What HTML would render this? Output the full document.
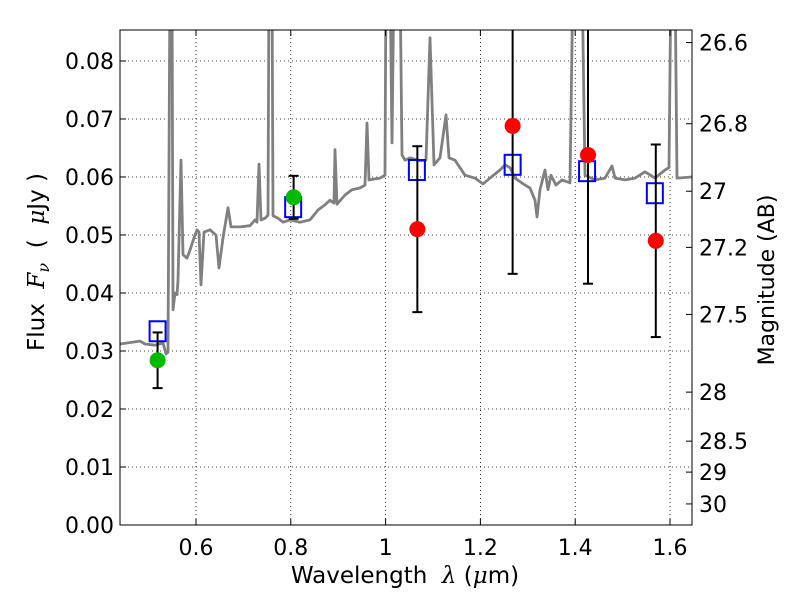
<!DOCTYPE html>
<html><head><meta charset="utf-8"><style>
body{margin:0;background:#fff;}
svg text{font-family:"DejaVu Sans","Liberation Sans",sans-serif;}
</style></head><body>
<svg id="chart" width="800" height="600"></svg>
<script>
const specLam=[0.4397,0.4819,0.4924,0.5135,0.5304,0.5367,0.5409,0.5451,0.5494,0.5515,0.5557,0.5599,0.5620,0.5684,0.5726,0.5810,0.5873,0.5958,0.6021,0.6063,0.6105,0.6169,0.6295,0.6422,0.6485,0.6570,0.6675,0.6738,0.6928,0.7139,0.7245,0.7287,0.7329,0.7371,0.7456,0.7519,0.7540,0.7603,0.7624,0.7730,0.7835,0.7983,0.8194,0.8405,0.8574,0.8722,0.8827,0.8911,0.8932,0.8975,0.9143,0.9291,0.9460,0.9565,0.9608,0.9650,0.9882,0.9987,1.0008,1.0093,1.0135,1.0177,1.0304,1.0346,1.0409,1.0515,1.0726,1.0852,1.0937,1.1021,1.1148,1.1274,1.1338,1.1464,1.1675,1.1886,1.2055,1.2203,1.2414,1.2519,1.2624,1.2730,1.2941,1.3046,1.3152,1.3194,1.3257,1.3363,1.3426,1.3489,1.3595,1.3722,1.3890,1.3954,1.4143,1.4207,1.4418,1.4629,1.4776,1.4840,1.5051,1.5262,1.5473,1.5684,1.5895,1.5979,1.6021,1.6105,1.6148,1.6464];
const specFlux=[0.0312,0.0317,0.0312,0.0310,0.0314,0.0295,0.0298,0.0950,0.0950,0.0371,0.0400,0.0397,0.0422,0.0629,0.0466,0.0460,0.0474,0.0495,0.0509,0.0505,0.0414,0.0505,0.0509,0.0500,0.0443,0.0495,0.0547,0.0514,0.0514,0.0516,0.0526,0.0522,0.0622,0.0526,0.0529,0.0534,0.0950,0.0950,0.0533,0.0529,0.0522,0.0526,0.0522,0.0526,0.0543,0.0552,0.0560,0.0555,0.0647,0.0553,0.0569,0.0578,0.0581,0.0586,0.0693,0.0595,0.0598,0.0603,0.0950,0.0950,0.0659,0.0950,0.0950,0.0638,0.0629,0.0633,0.0628,0.0629,0.0840,0.0621,0.0633,0.0707,0.0633,0.0629,0.0603,0.0598,0.0588,0.0598,0.0612,0.0621,0.0616,0.0598,0.0586,0.0581,0.0560,0.0531,0.0578,0.0612,0.0578,0.0603,0.0586,0.0595,0.0590,0.0950,0.0950,0.0603,0.0595,0.0598,0.0619,0.0598,0.0595,0.0598,0.0609,0.0598,0.0612,0.0616,0.0950,0.0950,0.0598,0.0600];
const photLam=[0.519,0.805,1.066,1.268,1.425,1.568];
const photFlux=[0.0334,0.0548,0.0612,0.0621,0.0610,0.0572];
const greenLam=[0.519,0.806];
const greenFlux=[0.0284,0.0565];
const greenErr=[0.0048,0.0037];
const redLam=[1.067,1.268,1.427,1.570];
const redFlux=[0.0510,0.0688,0.0638,0.0490];
const redErr=[0.0143,0.0255,0.0222,0.0166];
const xTicks=[0.6,0.8,1.0,1.2,1.4,1.6];
const xTickLabels=["0.6","0.8","1","1.2","1.4","1.6"];
const yTicks=[0,0.01,0.02,0.03,0.04,0.05,0.06,0.07,0.08];
const magTicks=[26.6,26.8,27,27.2,27.5,28,28.5,29,30];

const L=120,R=692,T=30,B=525;
const xmin=0.4397,xmax=1.6464,ymin=0,ymax=0.08534;
const X=v=>L+(v-xmin)/(xmax-xmin)*(R-L);
const Y=v=>B-(v-ymin)/(ymax-ymin)*(B-T);
const NS="http://www.w3.org/2000/svg";
const svg=document.getElementById('chart');
function mk(tag,attrs,parent){const e=document.createElementNS(NS,tag);for(const k in attrs)e.setAttribute(k,attrs[k]);(parent||svg).appendChild(e);return e;}

const defs=mk('defs',{});
const cp=mk('clipPath',{id:'clip'},defs);
mk('rect',{x:L,y:T,width:R-L,height:B-T},cp);

const grid=mk('g',{});


xTicks.forEach(t=>{mk('line',{x1:X(t),x2:X(t),y1:T,y2:B,stroke:'#000','stroke-width':0.8,'stroke-dasharray':'1,3'},grid);});
yTicks.forEach(t=>{mk('line',{x1:L,x2:R,y1:Y(t),y2:Y(t),stroke:'#000','stroke-width':0.8,'stroke-dasharray':'1,3'},grid);});

const plot=mk('g',{'clip-path':'url(#clip)'});
let d='';specLam.forEach((l,i)=>{d+=(i?'L':'M')+X(l).toFixed(1)+','+Y(specFlux[i]).toFixed(1);});
const sp=mk('path',{d:d,fill:'none',stroke:'#808080','stroke-width':2.8,'stroke-linejoin':'round'},plot);



photLam.forEach((l,i)=>{const r=mk('rect',{x:X(l)-8,y:Y(photFlux[i])-10,width:16,height:20,fill:'none',stroke:'#0000ff','stroke-width':2},plot);

});

function errbar(lam,fl,er,color,name){
  const x=X(lam);
  const g=mk('g',{},plot);
  
  
  mk('line',{x1:x,x2:x,y1:Y(fl+er),y2:Y(fl-er),stroke:'#000','stroke-width':2},g);
  mk('line',{x1:x-5,x2:x+5,y1:Y(fl+er),y2:Y(fl+er),stroke:'#000','stroke-width':2},g);
  mk('line',{x1:x-5,x2:x+5,y1:Y(fl-er),y2:Y(fl-er),stroke:'#000','stroke-width':2},g);
  mk('circle',{cx:x,cy:Y(fl),r:8,fill:color},g);
}
greenLam.forEach((l,i)=>errbar(l,greenFlux[i],greenErr[i],'#00bb00','observed-point-green'));
redLam.forEach((l,i)=>errbar(l,redFlux[i],redErr[i],'#ff0000','observed-point-red'));

const fr=mk('rect',{x:L,y:T,width:R-L,height:B-T,fill:'none',stroke:'#000','stroke-width':1});



xTicks.forEach((t,i)=>{const x=X(t);
  mk('line',{x1:x,x2:x,y1:B,y2:B-6,stroke:'#000'});mk('line',{x1:x,x2:x,y1:T,y2:T+6,stroke:'#000'});
  const tx=mk('text',{x:x,y:B+30,'font-size':22,'text-anchor':'middle'});tx.textContent=xTickLabels[i];
  
  
});
yTicks.forEach(t=>{const y=Y(t);
  mk('line',{x1:L,x2:L+6,y1:y,y2:y,stroke:'#000'});
  const tx=mk('text',{x:L-6,y:y+8,'font-size':22,'text-anchor':'end'});tx.textContent=t.toFixed(2);
  
  
});
magTicks.forEach(m=>{const f=Math.pow(10,(23.9-m)/2.5);const y=Y(f);
  mk('line',{x1:R,x2:R-6,y1:y,y2:y,stroke:'#000'});
  const tx=mk('text',{x:R+7,y:y+8,'font-size':22});tx.textContent=String(m);
  
  
});
</script>
<svg width="800" height="600" style="position:absolute;left:0;top:0;pointer-events:none">
<text x="405" y="583" font-size="23" text-anchor="middle" xml:space="preserve" style="font-family:'DejaVu Sans',sans-serif">Wavelength  <tspan font-style="italic" font-family="DejaVu Serif">λ</tspan> (<tspan font-style="italic" font-family="DejaVu Serif">μ</tspan>m)</text>
<text transform="translate(44,262) rotate(-90)" font-size="23" text-anchor="middle" xml:space="preserve" style="font-family:'DejaVu Sans',sans-serif">Flux  <tspan font-style="italic" font-family="DejaVu Serif">F</tspan><tspan font-style="italic" font-family="DejaVu Serif" font-size="16" dy="5">ν</tspan><tspan dy="-5">  (  </tspan><tspan font-style="italic" font-family="DejaVu Serif">μ</tspan>Jy )</text>
<text transform="translate(774,280) rotate(-90)" font-size="22" text-anchor="middle" style="font-family:'DejaVu Sans',sans-serif">Magnitude (AB)</text>
</svg>
</body></html>
